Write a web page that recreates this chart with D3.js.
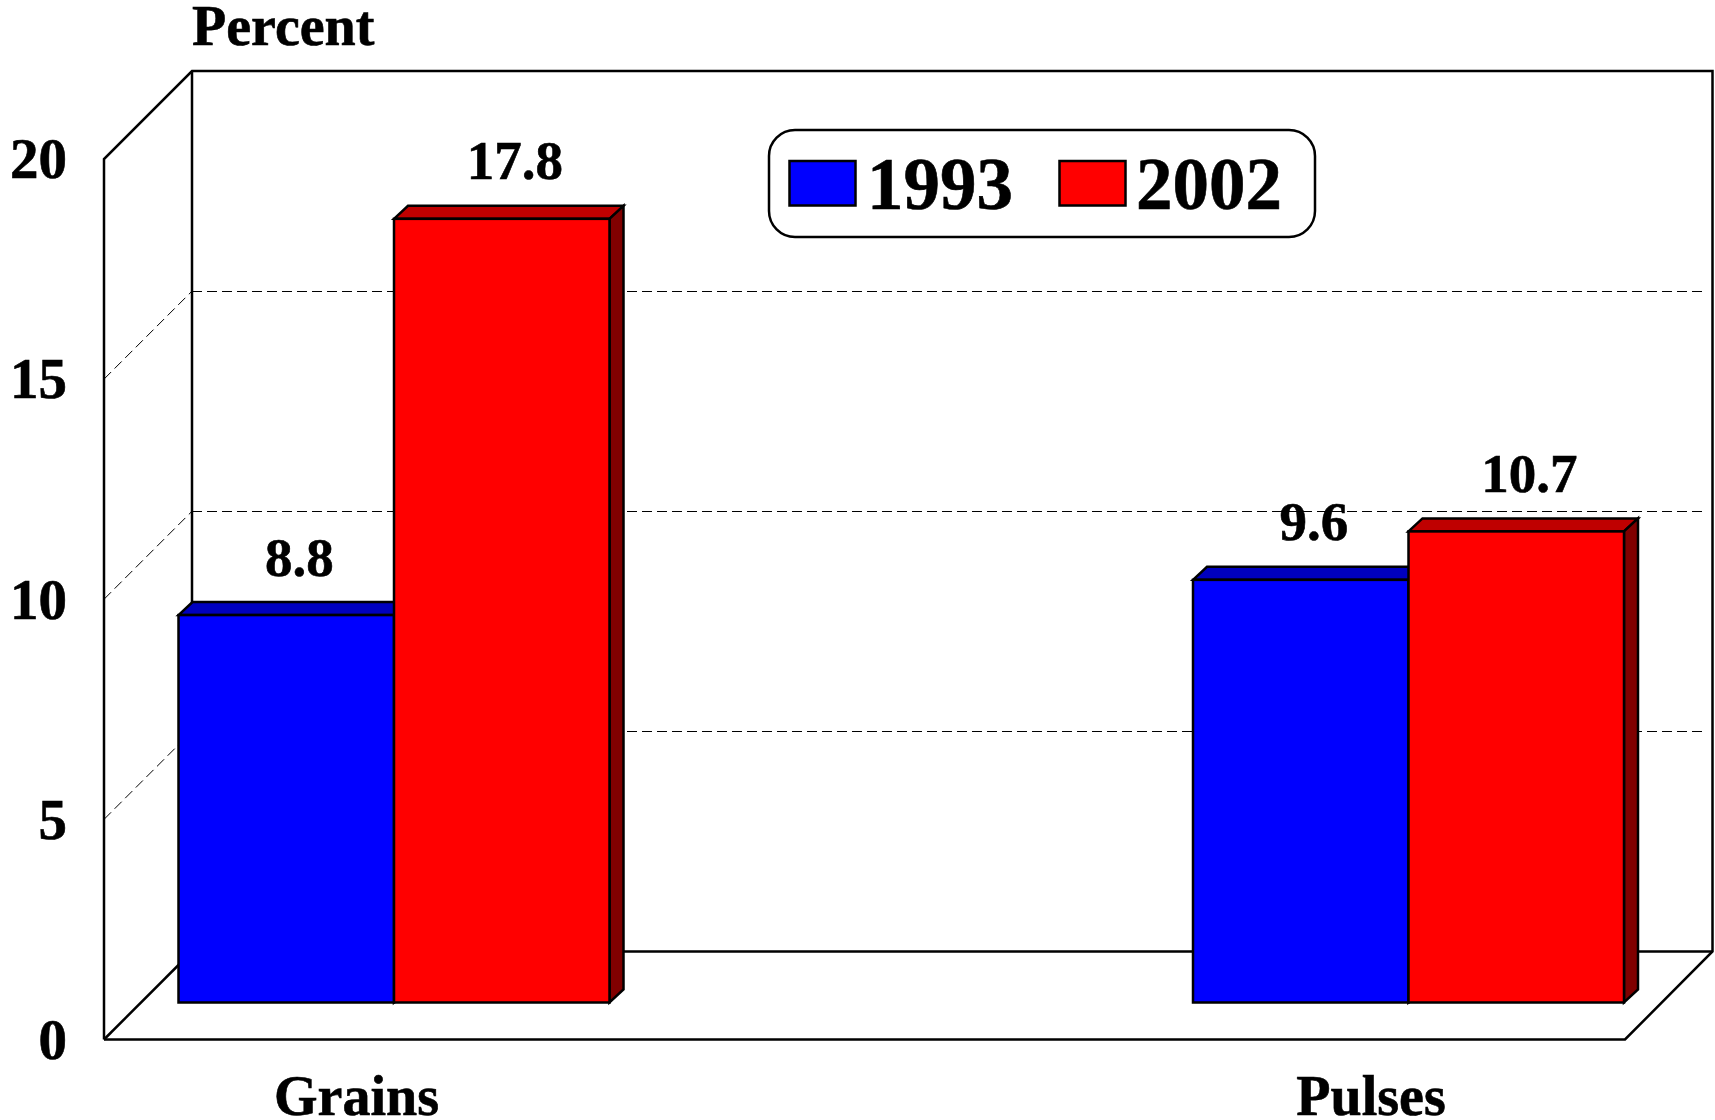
<!DOCTYPE html>
<html>
<head>
<meta charset="utf-8">
<script src="https://cdn.jsdelivr.net/npm/d3@7"></script>
<style>
html,body{margin:0;padding:0;background:#fff;}
svg{display:block;}
text{font-family:"Liberation Serif",serif;font-weight:bold;fill:#000;stroke:#000;stroke-width:0.6px;}
</style>
</head>
<body>
<script>
const categories = ["Grains", "Pulses"];
const seriesNames = ["1993", "2002"];
const values1993 = [8.8, 9.6];
const values2002 = [17.8, 10.7];
const yTicks = [0, 5, 10, 15, 20];
const gridTicks = [5, 10, 15];
const seriesFill = ["#0000ff", "#ff0000"];
const seriesTop = ["#0000bf", "#bf0000"];
const seriesSide = ["#000080", "#800000"];

const W = 1715, H = 1120;
const svg = d3.select("body").append("svg").attr("width", W).attr("height", H);

// Chart geometry: front plane of the box, and the depth to the back wall
const frontLeft = 104, frontRight = 1625, backRight = 1712.5;
const frontBottom = 1039.5, frontTop = 159;
const wallDepth = 88;
const barFloorLift = 37;     // bars stand this far behind the front edge of the floor
const barDepthX = 14, barDepthY = 13;

const yFront = d3.scaleLinear().domain([0, 20]).range([frontBottom, frontTop]);
const yBack = v => yFront(v) - wallDepth;
const yBar = v => yFront(v) - barFloorLift;

const xCat = d3.scalePoint().domain(categories).range([394, 1408.5]);
const xSeries = d3.scaleBand().domain(seriesNames).range([-215.5, 215.5]);

// Walls and floor
const frame = svg.append("g").attr("fill", "none").attr("stroke", "#000").attr("stroke-width", 2.5);
const backLeft = frontLeft + wallDepth;
frame.append("path").attr("stroke-linejoin", "miter").attr("d", d3.line()([
  [frontLeft, frontBottom], [frontLeft, yFront(20)], [backLeft, yBack(20)],
  [backRight, yBack(20)], [backRight, yBack(0)], [frontRight, frontBottom], [frontLeft, frontBottom]
]));
frame.append("path").attr("d", d3.line()([
  [backLeft, yBack(20)], [backLeft, yBack(0)], [backRight, yBack(0)]
]));
frame.append("path").attr("d", d3.line()([[frontLeft, frontBottom], [backLeft, yBack(0)]]));

// Dashed gridlines
const grid = svg.append("g").attr("fill", "none").attr("stroke", "#000").attr("stroke-width", 1).attr("stroke-dasharray", "10 5");
grid.selectAll("line.back").data(gridTicks).join("line").attr("class", "back")
  .attr("x1", backLeft).attr("x2", backRight - 6)
  .attr("y1", d => Math.round(yBack(d)) + 0.5).attr("y2", d => Math.round(yBack(d)) + 0.5);
grid.selectAll("line.side").data(gridTicks).join("line").attr("class", "side")
  .attr("x1", frontLeft).attr("x2", backLeft)
  .attr("y1", d => yFront(d)).attr("y2", d => yBack(d));

// Bars
const rows = [];
seriesNames.forEach((s, si) => {
  const vals = si === 0 ? values1993 : values2002;
  categories.forEach((c, ci) => rows.push({c, s, si, v: vals[ci]}));
});
const barG = svg.append("g").attr("stroke", "#000").attr("stroke-width", 2.5).attr("stroke-linejoin", "miter");
const bars = barG.selectAll("g").data(rows).join("g");
const bx0 = d => xCat(d.c) + xSeries(d.s);
const bx1 = d => bx0(d) + xSeries.bandwidth();
bars.append("path").attr("fill", d => seriesTop[d.si]).attr("d", d => d3.line()([
  [bx0(d), yBar(d.v)], [bx0(d) + barDepthX, yBar(d.v) - barDepthY],
  [bx1(d) + barDepthX, yBar(d.v) - barDepthY], [bx1(d), yBar(d.v)]
]) + "Z");
bars.append("path").attr("fill", d => seriesSide[d.si]).attr("d", d => d3.line()([
  [bx1(d), yBar(d.v)], [bx1(d) + barDepthX, yBar(d.v) - barDepthY],
  [bx1(d) + barDepthX, yBar(0) - barDepthY], [bx1(d), yBar(0)]
]) + "Z");
bars.append("rect").attr("fill", d => seriesFill[d.si])
  .attr("x", bx0).attr("width", xSeries.bandwidth())
  .attr("y", d => yBar(d.v)).attr("height", d => yBar(0) - yBar(d.v));

// Value labels
svg.append("g").selectAll("text").data(rows).join("text")
  .attr("x", d => bx0(d) + xSeries.bandwidth() / 2 + 13)
  .attr("y", d => yBar(d.v) - 39.5)
  .attr("text-anchor", "middle").attr("font-size", 55)
  .text(d => d.v.toFixed(1));

// Y axis labels
const yAxis = svg.append("g").attr("transform", "translate(67,0)")
  .call(d3.axisLeft(yFront).tickValues(yTicks).tickSize(0).tickPadding(0).tickFormat(d3.format("d")));
yAxis.select(".domain").remove();
yAxis.selectAll("text").attr("font-size", 57).attr("font-family", "Liberation Serif").attr("font-weight", "bold").attr("dy", "0.33em");

// X axis labels
const xAxis = svg.append("g").attr("transform", `translate(${-barFloorLift - 1},1115)`)
  .call(d3.axisBottom(xCat).tickSize(0).tickPadding(0));
xAxis.select(".domain").remove();
xAxis.selectAll("text").attr("font-size", 56).attr("font-family", "Liberation Serif").attr("font-weight", "bold").attr("y", 0).attr("dy", 0);

// Axis title
svg.append("text").attr("x", 192).attr("y", 45).attr("font-size", 56).text("Percent");

// Legend
const legend = svg.append("g");
legend.append("rect").attr("x", 769).attr("y", 130).attr("width", 546).attr("height", 107).attr("rx", 26).attr("ry", 26)
  .attr("fill", "#fff").attr("stroke", "#000").attr("stroke-width", 2.5);
const legendSwatchX = [789.5, 1059.5], legendTextX = [867, 1136];
const li = legend.selectAll("g").data(seriesNames).join("g");
li.append("rect").attr("x", (d, i) => legendSwatchX[i]).attr("y", 161).attr("width", 66).attr("height", 44.5)
  .attr("fill", (d, i) => seriesFill[i]).attr("stroke", "#000").attr("stroke-width", 2.5);
li.append("text").attr("x", (d, i) => legendTextX[i]).attr("y", 209).attr("font-size", 73).text(d => d);
</script>
</body>
</html>
